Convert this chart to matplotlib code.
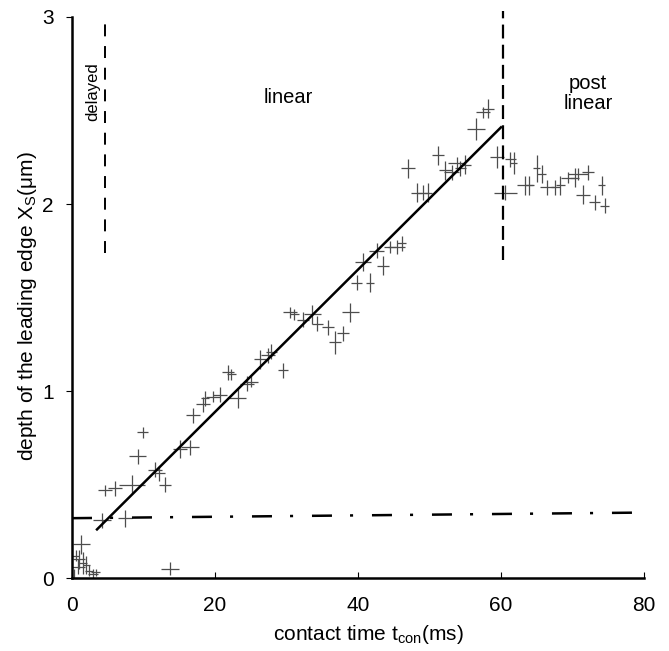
import numpy as np
import matplotlib
matplotlib.use("Agg")
import matplotlib.pyplot as plt

plt.rcParams['font.family'] = ['Liberation Sans', 'DejaVu Sans']
plt.rcParams['mathtext.fontset'] = 'custom'
plt.rcParams['mathtext.rm'] = 'Liberation Sans'
plt.rcParams['mathtext.it'] = 'Liberation Sans'
plt.rcParams['lines.scale_dashes'] = False

# --------------------------------------------------------------------------------------------------------
# measured points: contact time (ms), depth (um) and their error bars
# --------------------------------------------------------------------------------------------------------
t_con = [0.3, 0.8, 1.3, 1.0, 1.5, 2.0, 2.4, 2.9, 3.3, 0.5, 13.7,
         4.2, 7.4, 4.6, 6.0, 8.4, 9.2, 9.9, 11.6, 12.2, 13.0, 15.1, 16.5,
         16.9, 18.3, 18.6, 19.7, 20.7, 21.8, 22.3, 23.2, 24.5, 25.0, 26.3, 27.4,
         27.9, 29.5, 30.5, 31.1, 32.3, 33.6, 34.3, 35.8, 36.8, 37.9, 38.9, 39.8,
         41.7, 40.7, 43.5, 42.6, 44.5, 45.4, 46.1, 47.0, 48.2, 49.1, 49.8, 51.2,
         52.2, 53.1, 53.8, 54.3, 55.0, 56.5, 57.5, 58.2,
         59.4, 61.3, 61.8, 60.6, 63.4, 63.9, 65.0, 65.7, 66.4, 67.6, 68.3, 69.4,
         70.3, 70.8, 72.2, 71.5, 73.1, 74.1, 74.5]
depth = [0.00, 0.06, 0.18, 0.10, 0.08, 0.07, 0.04, 0.02, 0.03, 0.12, 0.05,
         0.31, 0.32, 0.47, 0.48, 0.50, 0.65, 0.78, 0.58, 0.56, 0.50, 0.69, 0.70,
         0.87, 0.93, 0.96, 0.97, 0.98, 1.10, 1.09, 0.96, 1.04, 1.05, 1.17, 1.19,
         1.21, 1.11, 1.42, 1.41, 1.38, 1.41, 1.36, 1.34, 1.26, 1.31, 1.42, 1.58,
         1.58, 1.69, 1.67, 1.75, 1.77, 1.77, 1.79, 2.19, 2.06, 2.06, 2.06, 2.26,
         2.18, 2.17, 2.22, 2.19, 2.21, 2.40, 2.49, 2.51,
         2.25, 2.24, 2.22, 2.06, 2.10, 2.10, 2.19, 2.16, 2.09, 2.09, 2.10, 2.14,
         2.14, 2.16, 2.17, 2.05, 2.01, 2.10, 1.99]
t_err = [0.8, 1.0, 1.2, 0.8, 0.6, 0.5, 0.6, 0.7, 0.6, 0.5, 1.2,
         1.2, 1.0, 1.0, 1.0, 1.8, 1.2, 0.8, 1.0, 0.8, 0.8, 1.0, 1.2,
         1.0, 1.0, 0.6, 1.0, 1.0, 0.8, 0.6, 1.2, 1.0, 1.0, 0.9, 1.0,
         0.8, 0.7, 1.0, 0.6, 0.8, 1.2, 0.8, 0.8, 0.8, 0.9, 1.2, 0.8,
         0.6, 1.1, 0.8, 1.0, 0.8, 1.2, 0.6, 1.0, 0.8, 0.8, 0.6, 0.8,
         0.9, 1.0, 1.2, 0.8, 0.8, 1.2, 1.0, 0.8,
         1.0, 0.8, 0.5, 1.6, 1.2, 0.6, 0.5, 0.6, 1.0, 0.6, 0.6, 1.0,
         0.6, 1.4, 0.8, 1.0, 0.8, 0.5, 0.6]
d_err = [0.05, 0.04, 0.05, 0.05, 0.06, 0.05, 0.03, 0.03, 0.02, 0.03, 0.035,
         0.04, 0.045, 0.03, 0.04, 0.05, 0.04, 0.03, 0.04, 0.04, 0.04, 0.05, 0.04,
         0.04, 0.04, 0.04, 0.03, 0.04, 0.04, 0.03, 0.05, 0.04, 0.03, 0.05, 0.04,
         0.04, 0.04, 0.03, 0.03, 0.04, 0.05, 0.04, 0.04, 0.06, 0.04, 0.05, 0.04,
         0.05, 0.05, 0.05, 0.04, 0.03, 0.04, 0.04, 0.05, 0.05, 0.04, 0.05, 0.05,
         0.05, 0.04, 0.03, 0.04, 0.05, 0.06, 0.03, 0.05,
         0.06, 0.04, 0.06, 0.04, 0.05, 0.05, 0.07, 0.05, 0.04, 0.04, 0.05, 0.03,
         0.05, 0.03, 0.04, 0.05, 0.04, 0.05, 0.04]

# linear fit end points, threshold line and phase borders
fit_t = [3.5, 60.0]
fit_d = [0.26, 2.41]
thresh_t = [0, 80]
thresh_d = [0.32, 0.35]
border_delayed = 4.6
border_post = 60.3

fig = plt.figure(figsize=(6.69, 6.51), dpi=100)
ax = fig.add_axes([0.1076, 0.1121, 0.855, 0.8618])

ax.errorbar(t_con, depth, xerr=t_err, yerr=d_err, fmt='none',
            ecolor='0.3', elinewidth=0.9, capsize=0)

ax.plot(fit_t, fit_d, color='black', lw=1.8)
ax.plot(thresh_t, thresh_d, color='black', lw=1.8,
        linestyle=(0, (14.4, 13, 2.2, 13.6)))
ax.plot([border_delayed, border_delayed], [1.74, 3.0], color='black', lw=1.4,
        linestyle=(0, (8.6, 7)))
ax.plot([border_post, border_post], [1.70, 3.03], color='black', lw=1.6,
        linestyle=(0, (10, 4.5)), clip_on=False)

ax.text(2.9, 2.60, 'delayed', rotation=90, ha='center', va='center', fontsize=12)
ax.text(30.2, 2.57, 'linear', ha='center', va='center', fontsize=14.5)
ax.text(72.2, 2.59, 'post\nlinear', ha='center', va='center', fontsize=14.5,
        linespacing=1.1)

ax.set_xlim(0, 80)
ax.set_ylim(0, 3)
ax.set_xticks([0, 20, 40, 60, 80])
ax.set_yticks([0, 1, 2, 3])
ax.spines['top'].set_visible(False)
ax.spines['right'].set_visible(False)
ax.spines['left'].set_linewidth(1.8)
ax.spines['bottom'].set_linewidth(1.8)
ax.tick_params(axis='y', direction='out', length=4, width=0.8, labelsize=15, pad=9)
ax.tick_params(axis='x', direction='in', length=4, width=0.8, labelsize=15, pad=13)

ax.set_xlabel(r'contact time t$_{\mathrm{con}}$(ms)', fontsize=15)
ax.set_ylabel(r'depth of the leading edge X$_{\mathrm{S}}$($\mathrm{\mu}$m)',
              fontsize=15)
ax.xaxis.set_label_coords(0.519, -0.08)
ax.yaxis.set_label_coords(-0.058, 0.485)

fig.savefig('out.png', dpi=100)
